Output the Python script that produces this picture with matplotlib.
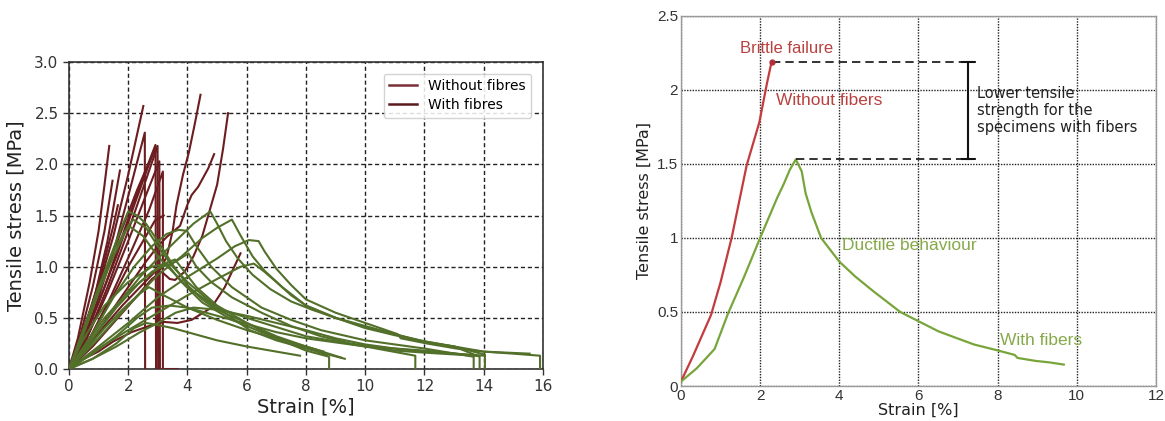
# -------------------------------------------------------------------------------------
# Libraries
import matplotlib
matplotlib.use('Agg')
import matplotlib.pyplot as plt
from matplotlib.lines import Line2D
# -------------------------------------------------------------------------------------


# -------------------------------------------------------------------------------------
# Data - all specimens (strain [%], stress [MPa])
without_fibres_strain = [
    [0, 0.3, 0.7, 1.0, 1.2, 1.36],
    [0, 0.4, 0.8, 1.2, 1.47],
    [0, 0.4, 0.9, 1.3, 1.72],
    [0, 0.5, 1.0, 1.5, 2.0, 2.51],
    [0, 0.5, 1.0, 1.6, 2.1, 2.56, 2.57],
    [0, 0.6, 1.2, 1.8, 2.4, 2.92, 2.94],
    [0, 0.6, 1.3, 2.0, 2.6, 2.99, 3.01],
    [0, 0.6, 1.3, 2.0, 2.6, 3.05, 3.07],
    [0, 0.7, 1.4, 2.1, 2.7, 3.17, 3.17, 3.67],
    [0, 0.6, 1.2, 1.8, 2.4, 2.9, 3.1, 3.3, 3.5, 3.63, 3.85, 4.05, 4.25, 4.44],
    [0, 0.7, 1.4, 2.0, 2.6, 3.0, 3.3, 3.75, 3.99, 4.14, 4.36, 4.7, 4.9],
    [0, 0.8, 1.5, 2.2, 2.8, 3.13, 3.4, 3.58, 3.9, 4.2, 4.5, 4.75, 5.0, 5.2, 5.37],
    [0, 0.5, 0.99, 1.5, 2.11, 2.7, 3.21, 3.66, 4.14, 4.81, 5.26, 5.5, 5.79],
    [0, 0.4, 1.0, 1.6, 2.2, 2.7, 2.9],
    [0, 0.5, 1.0, 1.5, 2.0, 2.5, 2.9, 3.2],
    [0, 0.3, 0.7, 1.1, 1.5, 1.65],
    [0, 0.5, 1.1, 1.7, 2.3, 2.6],
]
without_fibres_stress = [
    [0, 0.3, 0.85, 1.35, 1.8, 2.18],
    [0, 0.35, 0.8, 1.35, 1.84],
    [0, 0.3, 0.75, 1.25, 1.94],
    [0, 0.35, 0.8, 1.3, 1.9, 2.57],
    [0, 0.3, 0.7, 1.25, 1.8, 2.31, 0.0],
    [0, 0.35, 0.8, 1.3, 1.8, 2.19, 0.0],
    [0, 0.3, 0.8, 1.35, 1.85, 2.18, 0.0],
    [0, 0.3, 0.75, 1.25, 1.7, 2.03, 0.0],
    [0, 0.3, 0.7, 1.15, 1.55, 1.93, 0.0, 0.0],
    [0, 0.2, 0.42, 0.62, 0.8, 0.95, 0.98, 1.1, 1.35, 1.6, 1.9, 2.12, 2.4, 2.68],
    [0, 0.25, 0.55, 0.8, 1.05, 1.2, 1.29, 1.4, 1.6, 1.7, 1.78, 1.96, 2.1],
    [0, 0.22, 0.45, 0.68, 0.88, 0.95, 0.88, 0.87, 0.95, 1.1, 1.3, 1.55, 1.8, 2.15, 2.5],
    [0, 0.1, 0.17, 0.27, 0.36, 0.42, 0.46, 0.45, 0.48, 0.6, 0.8, 0.95, 1.13],
    [0, 0.25, 0.65, 1.1, 1.6, 2.0, 2.15],
    [0, 0.2, 0.45, 0.72, 1.0, 1.25, 1.45, 1.5],
    [0, 0.2, 0.55, 0.95, 1.4, 1.6],
    [0, 0.4, 0.85, 1.3, 1.75, 1.95],
]

with_fibres_strain = [
    [0, 0.4, 0.9, 1.4, 1.8, 2.0, 2.3, 2.6, 3.0, 3.5, 4.0, 4.5, 5.0, 6.0, 7.0, 8.0, 8.78, 8.78],
    [0, 0.5, 1.0, 1.5, 2.0, 2.17, 2.6, 3.0, 3.5, 4.0, 5.0, 6.1, 7.0, 8.0, 9.31],
    [0, 0.5, 1.0, 1.5, 1.9, 2.06, 2.5, 3.0, 3.5, 4.0, 5.0, 6.0, 8.0, 10.0, 11.69, 11.69],
    [0, 0.8, 1.5, 2.2, 2.8, 3.3, 3.7, 3.98, 4.3, 4.8, 5.5, 6.5, 7.5, 8.5, 10.0, 12.0, 13.66, 13.66],
    [0, 0.8, 1.6, 2.4, 3.0, 3.6, 4.2, 4.77, 5.0, 5.3, 5.7, 6.2, 6.8, 7.5, 8.2, 9.0, 10.0, 11.0,
     12.0, 13.0, 14.04, 14.04],
    [0, 1.0, 2.0, 3.0, 3.8, 4.5, 5.0, 5.5, 5.8, 6.2, 6.6, 7.2, 8.0, 9.0, 10.0, 11.0, 12.0, 13.0,
     14.0, 15.0, 15.9, 15.9],
    [0, 1.0, 2.0, 3.0, 4.0, 5.0, 5.6, 6.07, 6.4, 6.6, 7.0, 7.5, 8.0, 9.0, 10.0, 11.1, 11.2, 12.07,
     13.08, 14.0, 15.55],
    [0, 1.0, 2.0, 3.0, 4.0, 5.0, 5.8, 6.24, 6.6, 7.0, 7.5, 8.0, 9.0, 10.0, 11.0, 12.0, 13.0,
     13.86, 13.86],
    [0, 0.6, 1.2, 2.0, 2.8, 3.3, 3.58, 3.9, 4.3, 5.0, 6.0, 7.0, 8.0, 8.6],
    [0, 0.8, 1.6, 2.4, 3.0, 3.6, 4.03, 4.3, 4.8, 5.5, 6.5, 7.5, 8.5, 9.5, 11.0, 12.0, 13.7],
    [0, 0.5, 1.2, 2.0, 2.8, 3.3, 3.8, 4.5, 5.5, 6.5, 7.5, 8.7],
    [0, 0.6, 1.2, 1.8, 2.4, 2.7, 3.2, 4.0, 5.0, 6.0, 7.0, 8.0, 9.2],
    [0, 0.8, 1.6, 2.4, 3.0, 3.6, 4.2, 5.0, 6.0, 7.0, 8.0, 9.0, 10.0, 11.0, 12.0, 14.0],
    [0, 0.8, 1.6, 2.3, 2.8, 3.4, 4.0, 5.0, 6.0, 7.0, 8.0, 10.0, 12.0, 13.8],
    [0, 0.8, 1.6, 2.2, 2.6, 3.0, 3.5, 4.0, 5.0, 6.0, 7.0, 7.8],
]
with_fibres_stress = [
    [0, 0.3, 0.7, 1.1, 1.4, 1.54, 1.5, 1.42, 1.25, 1.02, 0.82, 0.68, 0.58, 0.45, 0.3, 0.18, 0.12, 0.0],
    [0, 0.35, 0.75, 1.1, 1.4, 1.46, 1.38, 1.2, 1.0, 0.85, 0.6, 0.38, 0.28, 0.2, 0.1],
    [0, 0.4, 0.8, 1.15, 1.35, 1.39, 1.3, 1.1, 0.95, 0.8, 0.6, 0.5, 0.32, 0.22, 0.13, 0.0],
    [0, 0.35, 0.7, 1.0, 1.2, 1.32, 1.36, 1.35, 1.2, 1.0, 0.8, 0.6, 0.48, 0.38, 0.28, 0.2, 0.12, 0.0],
    [0, 0.3, 0.62, 0.9, 1.08, 1.25, 1.42, 1.54, 1.42, 1.25, 1.08, 0.92, 0.78, 0.66, 0.58, 0.5,
     0.42, 0.34, 0.27, 0.22, 0.14, 0.0],
    [0, 0.3, 0.62, 0.92, 1.1, 1.28, 1.38, 1.46, 1.3, 1.1, 0.96, 0.8, 0.62, 0.5, 0.41, 0.34, 0.26,
     0.22, 0.17, 0.15, 0.13, 0.0],
    [0, 0.22, 0.45, 0.7, 0.9, 1.08, 1.2, 1.26, 1.25, 1.15, 0.98, 0.82, 0.68, 0.55, 0.45, 0.34, 0.3,
     0.25, 0.2, 0.17, 0.15],
    [0, 0.2, 0.38, 0.55, 0.72, 0.88, 1.0, 1.03, 0.95, 0.85, 0.72, 0.62, 0.5, 0.4, 0.33, 0.27, 0.22,
     0.12, 0.0],
    [0, 0.25, 0.5, 0.75, 0.95, 1.04, 1.07, 0.95, 0.8, 0.62, 0.45, 0.32, 0.22, 0.17],
    [0, 0.3, 0.6, 0.85, 0.98, 1.05, 1.13, 1.0, 0.85, 0.7, 0.55, 0.42, 0.32, 0.25, 0.18, 0.16, 0.13],
    [0, 0.3, 0.62, 0.85, 1.0, 1.03, 0.85, 0.65, 0.48, 0.36, 0.26, 0.14],
    [0, 0.2, 0.4, 0.58, 0.74, 0.8, 0.72, 0.6, 0.48, 0.38, 0.3, 0.22, 0.11],
    [0, 0.1, 0.22, 0.36, 0.45, 0.55, 0.6, 0.58, 0.52, 0.45, 0.38, 0.3, 0.24, 0.2, 0.17, 0.13],
    [0, 0.15, 0.32, 0.5, 0.6, 0.62, 0.6, 0.52, 0.44, 0.36, 0.3, 0.22, 0.18, 0.13],
    [0, 0.1, 0.25, 0.4, 0.45, 0.43, 0.4, 0.36, 0.28, 0.22, 0.17, 0.13],
]

legend_labels = ['Without fibres', 'With fibres']

# Data - representative specimens (strain [%], stress [MPa])
brittle_strain = [0, 0.3, 0.76, 1.0, 1.28, 1.66, 1.98, 2.17, 2.29]
brittle_stress = [0.03, 0.2, 0.48, 0.7, 1.0, 1.49, 1.78, 2.04, 2.19]

ductile_strain = [0, 0.4, 0.85, 1.19, 1.6, 2.0, 2.43, 2.59, 2.75, 2.9, 3.05, 3.15, 3.3, 3.54, 4.0,
                  4.4, 4.86, 5.2, 5.54, 6.13, 6.5, 6.9, 7.41, 8.01, 8.43, 8.5, 8.95, 9.3, 9.67]
ductile_stress = [0.03, 0.12, 0.25, 0.49, 0.74, 1.0, 1.27, 1.36, 1.46, 1.53, 1.45, 1.3, 1.17, 1.0,
                  0.84, 0.74, 0.64, 0.57, 0.5, 0.42, 0.37, 0.33, 0.28, 0.24, 0.21, 0.19, 0.17, 0.16, 0.145]
# -------------------------------------------------------------------------------------


# -------------------------------------------------------------------------------------
# Figure
fig = plt.figure(figsize=(11.65, 4.21), dpi=100)
fig.patch.set_facecolor('white')

color_red = '#6b1d20'
color_green = '#52702a'

# -------------------------------------------------------------------------------------
# Left panel - all specimens
ax1 = fig.add_axes([0.0592, 0.1235, 0.4069, 0.7292])

for strain, stress in zip(without_fibres_strain, without_fibres_stress):
    ax1.plot(strain, stress, color=color_red, lw=1.5, zorder=3)
for strain, stress in zip(with_fibres_strain, with_fibres_stress):
    ax1.plot(strain, stress, color=color_green, lw=1.5, zorder=3)

ax1.set_xlim(0, 16)
ax1.set_ylim(0, 3.0)
ax1.set_xticks(range(0, 17, 2))
ax1.set_yticks([0.0, 0.5, 1.0, 1.5, 2.0, 2.5, 3.0])
ax1.set_yticklabels(['0.0', '0.5', '1.0', '1.5', '2.0', '2.5', '3.0'])
ax1.tick_params(labelsize=11, colors='#333333', length=4, width=1)
ax1.grid(True, color='#222222', linestyle=(0, (3, 2)), linewidth=1.0)
ax1.set_axisbelow(True)
for spine in ax1.spines.values():
    spine.set_color('#333333')
    spine.set_linewidth(1.2)
ax1.set_xlabel('Strain [%]', fontsize=14, color='#222222', labelpad=2)
ax1.set_ylabel('Tensile stress [MPa]', fontsize=14, color='#222222', labelpad=6)

legend_handles = [Line2D([0], [0], color='#7a2f36', lw=1.8),
                  Line2D([0], [0], color='#5a1a1c', lw=1.8)]
ax1.legend(legend_handles, legend_labels, loc='upper right', fontsize=10,
           framealpha=0.85, edgecolor='#cccccc', handlelength=2.0, borderpad=0.4,
           labelspacing=0.35, bbox_to_anchor=(0.99, 0.985))

# -------------------------------------------------------------------------------------
# Right panel - representative specimens
ax2 = fig.add_axes([0.5845, 0.083, 0.4078, 0.8797])

ax2.plot(brittle_strain, brittle_stress, color='#c23b3d', lw=1.6, zorder=4)
ax2.plot(ductile_strain, ductile_stress, color='#78a53a', lw=1.6, zorder=4)
ax2.plot(brittle_strain[-1], brittle_stress[-1], 'o', color='#b0303a', ms=3.5, zorder=5)

# Dashed reference lines at both peaks and strength gap bar
peak_ref_x = 7.46
bar_x = 7.25
ax2.plot([brittle_strain[-1], peak_ref_x], [brittle_stress[-1]] * 2, color='#111111',
         lw=1.2, linestyle=(0, (5, 3)), zorder=4)
ax2.plot([ductile_strain[9], peak_ref_x], [ductile_stress[9]] * 2, color='#111111',
         lw=1.2, linestyle=(0, (5, 3)), zorder=4)
ax2.plot([bar_x, bar_x], [ductile_stress[9], brittle_stress[-1]], color='#111111', lw=1.5, zorder=4)
for y_cap in (ductile_stress[9], brittle_stress[-1]):
    ax2.plot([bar_x - 0.15, bar_x + 0.15], [y_cap, y_cap], color='#111111', lw=1.5, zorder=4)

ax2.set_xlim(0, 12)
ax2.set_ylim(0, 2.5)
ax2.set_xticks(range(0, 13, 2))
ax2.set_yticks([0, 0.5, 1, 1.5, 2, 2.5])
ax2.set_yticklabels(['0', '0.5', '1', '1.5', '2', '2.5'])
ax2.tick_params(length=0, labelsize=11, colors='#333333', pad=2)
for label in ax2.get_xticklabels() + ax2.get_yticklabels():
    label.set_family('Liberation Sans')
ax2.grid(True, color='#222222', linestyle=(0, (1, 1)), linewidth=1.0)
ax2.set_axisbelow(True)
for spine in ax2.spines.values():
    spine.set_color('#999999')
    spine.set_linewidth(1.0)
ax2.set_xlabel('Strain [%]', fontsize=11.5, color='#222222', labelpad=0)
ax2.set_ylabel('Tensile stress [MPa]', fontsize=11.5, color='#222222', labelpad=4)

ax2.text(2.66, 2.28, 'Brittle failure', color='#b9413f', fontsize=12,
         family='Liberation Sans', ha='center', va='center', zorder=6)
ax2.text(2.4, 1.93, 'Without fibers', color='#b9413f', fontsize=12.5,
         family='Liberation Sans', ha='left', va='center', zorder=6)
ax2.text(4.07, 0.95, 'Ductile behaviour', color='#86a94a', fontsize=12.5,
         family='Liberation Sans', ha='left', va='center', zorder=6)
ax2.text(8.07, 0.31, 'With fibers', color='#86a94a', fontsize=12.5,
         family='Liberation Sans', ha='left', va='center', zorder=6)
ax2.text(7.48, 1.86, 'Lower tensile\nstrength for the\nspecimens with fibers', color='#222222',
         fontsize=10.5, ha='left', va='center', linespacing=1.2, zorder=6)

fig.savefig('out.png', dpi=100, facecolor='white')
plt.close()
# -------------------------------------------------------------------------------------
